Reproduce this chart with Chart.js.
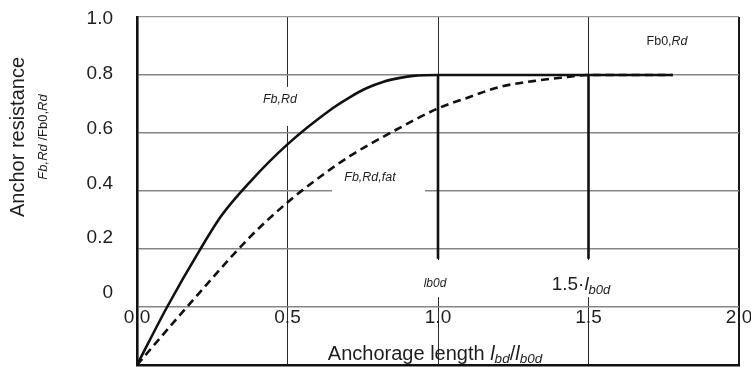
<!DOCTYPE html>
<html>
<head>
<meta charset="utf-8">
<script src="https://cdn.jsdelivr.net/npm/chart.js@4/dist/chart.umd.min.js"></script>
<style>
  html, body { margin: 0; padding: 0; background: #fff; }
  #wrap { width: 751px; height: 367px; }
</style>
</head>
<body>
<div id="wrap"><canvas id="c" width="751" height="367"></canvas></div>
<script>
// ---- data ----
const xTickValues = [0, 0.5, 1.0, 1.5, 2.0];
const xTickLabels = ['0.0', '0.5', '1.0', '1.5', '2.0'];
const yTickValues = [1.0, 0.8, 0.6, 0.4, 0.2, 0];
const yTickLabels = ['1.0', '0.8', '0.6', '0.4', '0.2', '0'];

const solidX = [0, 0.1, 0.209, 0.282, 0.375, 0.498, 0.651, 0.708, 0.764, 0.817, 0.874, 0.917, 1.0, 1.78];
const solidY = [-0.2, 0.0, 0.197, 0.317, 0.431, 0.559, 0.686, 0.724, 0.755, 0.776, 0.79, 0.797, 0.8, 0.8];

const dashX = [0, 0.166, 0.375, 0.498, 0.598, 0.708, 0.841, 1.003, 1.096, 1.206, 1.316, 1.429, 1.495, 1.78];
const dashY = [-0.2, 0.0, 0.241, 0.359, 0.441, 0.521, 0.6, 0.686, 0.721, 0.759, 0.779, 0.793, 0.8, 0.8];

const ref1X = [1.0, 1.0];
const ref1Y = [0.8, 0.166];
const ref2X = [1.5, 1.5];
const ref2Y = [0.8, 0.166];

const zip = (xs, ys) => xs.map((x, i) => ({ x: x, y: ys[i] }));

// ---- annotation layout (positions in data units) ----
const FONT = '"Liberation Sans", Arial, Helvetica, sans-serif';
const TXT = '#1e1e1e';
const annotations = [
  { x: 0.475, y: 0.717, segs: [{ t: 'Fb,Rd', size: 12.5, it: true }] },
  { x: 0.774, y: 0.448, segs: [{ t: 'Fb,Rd,fat', size: 12.5, it: true }] },
  { x: 1.761, y: 0.914, segs: [{ t: 'Fb0,', size: 12.5 }, { t: 'Rd', size: 12.5, it: true }] },
  { x: 0.990, y: 0.079, segs: [{ t: 'lb0d', size: 12, it: true }] },
  { x: 1.475, y: 0.076, segs: [{ t: '1.5\u00b7', size: 19 }, { t: 'l', size: 19, it: true }, { t: 'b0d', size: 13, it: true, dy: 5 }] }
];
const gaps = [
  { x0: 0.405, x1: 0.551, y0: 0.624, y1: 0.759 },
  { x0: 0.648, x1: 0.957, y0: 0.383, y1: 0.479 },
  { x0: 0.940, x1: 1.047, y0: 0.034, y1: 0.162 },
  { x0: 1.365, x1: 1.585, y0: 0.034, y1: 0.162 }
];

function fontOf(s) { return (s.it ? 'italic ' : '') + s.size + 'px ' + FONT; }
function drawRich(ctx, segs, cx, cy, align) {
  let w = 0;
  segs.forEach(s => { ctx.font = fontOf(s); w += ctx.measureText(s.t).width; });
  let x = align === 'left' ? cx : cx - w / 2;
  ctx.textBaseline = 'middle';
  ctx.textAlign = 'left';
  segs.forEach(s => {
    ctx.font = fontOf(s);
    ctx.fillText(s.t, x, cy + (s.dy || 0));
    x += ctx.measureText(s.t).width;
  });
}

const decor = {
  id: 'decor',
  beforeDatasetsDraw(chart) {
    const ctx = chart.ctx, xs = chart.scales.x, ys = chart.scales.y;
    ctx.save();
    ctx.fillStyle = '#ffffff';
    gaps.forEach(g => {
      const x0 = xs.getPixelForValue(g.x0), x1 = xs.getPixelForValue(g.x1);
      const y0 = ys.getPixelForValue(g.y1), y1 = ys.getPixelForValue(g.y0);
      ctx.fillRect(x0, y0, x1 - x0, y1 - y0);
    });
    ctx.restore();
  },
  afterDatasetsDraw(chart) {
    const ctx = chart.ctx, xs = chart.scales.x, ys = chart.scales.y, yl = chart.scales.yLab;
    ctx.save();
    ctx.fillStyle = TXT;
    // y tick labels
    ctx.font = '19px ' + FONT;
    ctx.textAlign = 'right';
    ctx.textBaseline = 'middle';
    yTickValues.forEach((v, i) => ctx.fillText(yTickLabels[i], xs.left - 24, yl.getPixelForValue(v)));
    // x tick labels (drawn inside the frame, as in the reference)
    ctx.textAlign = 'center';
    const yTickRow = ys.getPixelForValue(-0.2) - 47;
    xTickValues.forEach((v, i) => ctx.fillText(xTickLabels[i], xs.getPixelForValue(v), yTickRow));
    // annotations
    annotations.forEach(a => drawRich(ctx, a.segs, xs.getPixelForValue(a.x), ys.getPixelForValue(a.y)));
    // x axis title
    drawRich(ctx, [
      { t: 'Anchorage length ', size: 20 },
      { t: 'l', size: 20, it: true },
      { t: 'bd', size: 13.5, it: true, dy: 5 },
      { t: '/', size: 20 },
      { t: 'l', size: 20, it: true },
      { t: 'b0d', size: 13.5, it: true, dy: 5 }
    ], (xs.left + xs.right) / 2 - 3, ys.bottom - 11);
    // y axis title (rotated)
    ctx.translate(18, 137);
    ctx.rotate(-Math.PI / 2);
    drawRich(ctx, [{ t: 'Anchor resistance', size: 20 }], 0, 0);
    ctx.translate(0, 25);
    drawRich(ctx, [{ t: 'Fb,Rd', size: 13, it: true }, { t: ' /Fb0,', size: 13 }, { t: 'Rd', size: 13, it: true }], 0, 0);
    ctx.restore();
  }
};

new Chart(document.getElementById('c'), {
  type: 'line',
  data: {
    datasets: [
      { label: 'Fb,Rd', data: zip(solidX, solidY), borderColor: '#111', borderWidth: 2.6, pointRadius: 0, cubicInterpolationMode: 'monotone', fill: false },
      { label: 'Fb,Rd,fat', data: zip(dashX, dashY), borderColor: '#111', borderWidth: 2.6, borderDash: [8, 5], pointRadius: 0, cubicInterpolationMode: 'monotone', fill: false },
      { label: 'lb0d', data: zip(ref1X, ref1Y), borderColor: '#111', borderWidth: 2.6, pointRadius: 0, fill: false },
      { label: '1.5 lb0d', data: zip(ref2X, ref2Y), borderColor: '#111', borderWidth: 2.6, pointRadius: 0, fill: false }
    ]
  },
  options: {
    responsive: false,
    animation: false,
    events: [],
    layout: { padding: { left: 137, right: 12, top: 17, bottom: 2 } },
    plugins: { legend: { display: false }, tooltip: { enabled: false } },
    scales: {
      x: {
        type: 'linear', min: 0, max: 2,
        ticks: { display: false, stepSize: 0.5 },
        grid: {
          drawTicks: false,
          color: c => c.tick.value === 0 ? 'rgba(0,0,0,0)' : (c.tick.value === 2 ? '#1a1a1a' : '#2a2a2a'),
          lineWidth: c => c.tick.value === 2 ? 2 : 1
        },
        border: { display: true, color: '#111', width: 2.6 }
      },
      y: {
        type: 'linear', min: -0.2, max: 1.0,
        ticks: { display: false, stepSize: 0.2 },
        grid: {
          drawTicks: false,
          color: c => c.tick.value <= -0.19 ? 'rgba(0,0,0,0)' : (c.tick.value >= 0.99 ? '#9a9a9a' : '#858585'),
          lineWidth: c => c.tick.value >= 0.99 ? 1.2 : 1.6
        },
        border: { display: true, color: '#111', width: 2.6 }
      },
      yLab: {
        type: 'linear', display: false, position: 'left', min: -0.263, max: 1.007
      }
    }
  },
  plugins: [decor]
});
</script>
</body>
</html>
